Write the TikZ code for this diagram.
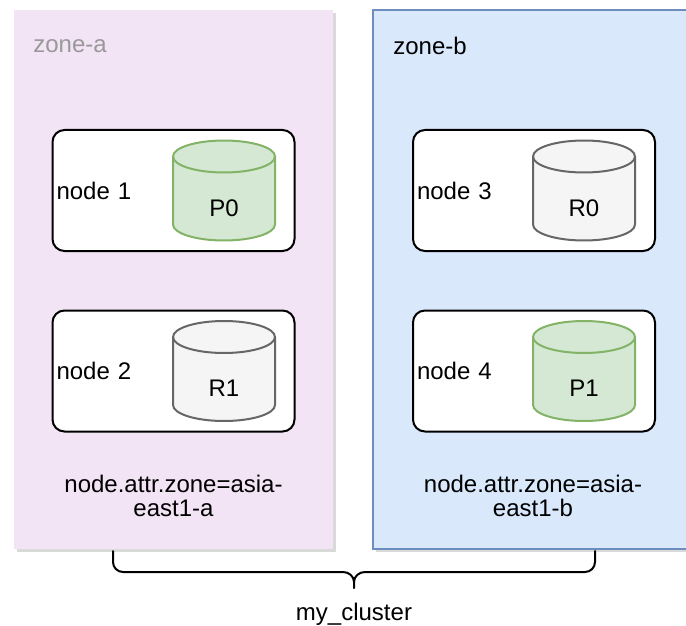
\documentclass[tikz,border=0pt]{standalone}
\usepackage{fontspec}
\setmainfont{Liberation Sans}
\usetikzlibrary{shadows}
\definecolor{zonepink}{RGB}{242,227,245}
\definecolor{zoneblue}{HTML}{DAE8FC}
\definecolor{zonebluedraw}{HTML}{6C8EBF}
\definecolor{primfill}{HTML}{D5E8D4}
\definecolor{primdraw}{HTML}{82B366}
\definecolor{repfill}{HTML}{F5F5F5}
\definecolor{repdraw}{HTML}{666666}
\definecolor{labelgray}{HTML}{999999}
\tikzset{
  zonebox/.style={minimum width=159.5pt, minimum height=269.5pt, inner sep=0pt,
    drop shadow={shadow xshift=1.5pt, shadow yshift=-1.5pt, opacity=0.3}},
  hostbox/.style={draw, line width=1pt, rounded corners=6pt, fill=white,
    minimum width=121pt, minimum height=60.5pt, text width=117pt,
    inner xsep=2pt, align=left},
  txt/.style={font=\fontsize{12}{12}\selectfont, inner sep=0pt},
  dbcyl/.pic={
    \path[pic actions] (-25.5pt,17pt) -- (-25.5pt,-17pt) arc (180:360:25.5pt and 8pt)
      -- (25.5pt,17pt) arc (0:180:25.5pt and 8pt) -- cycle;
    \draw[pic actions, fill=none] (-25.5pt,17pt) arc (180:360:25.5pt and 8pt);
    \node[txt] (-lbl) at (0,-8.75pt) {#1};
  },
  primary/.style={draw=primdraw, fill=primfill, line width=1pt},
  replica/.style={draw=repdraw, fill=repfill, line width=1pt},
  brace/.style={draw, line width=1pt, line cap=round}
}
\begin{document}
\begin{tikzpicture}[x=0.5pt, y=-0.5pt]
    \useasboundingbox (0,0) rectangle (686,626);
    \clip (0,0) rectangle (686,626);
    % zones
    \node[zonebox, fill=zonepink] (zoneA) at (173.5,279.5) {};
    \node[zonebox, fill=zoneblue, draw=zonebluedraw, line width=1pt, minimum width=160pt] (zoneB) at (533,279.5) {};
    \node[txt, anchor=west, text=labelgray] (zoneAlbl) at (33,46) {zone-a};
    \node[txt, anchor=west] (zoneBlbl) at (393,46) {zone-b};
    % hosts
    \node[hostbox, txt, inner xsep=2pt] (host1) at (173.5,190.5) {node 1};
    \node[hostbox, txt, inner xsep=2pt] (host2) at (173.5,371) {node 2};
    \node[hostbox, txt, inner xsep=2pt] (host3) at (534,190.5) {node 3};
    \node[hostbox, txt, inner xsep=2pt] (host4) at (534,371) {node 4};
    % shards
    \pic[primary] (shP0) at (224,190.5) {dbcyl=P0};
    \pic[replica] (shR1) at (224,371) {dbcyl=R1};
    \pic[replica] (shR0) at (584,190.5) {dbcyl=R0};
    \pic[primary] (shP1) at (584,371) {dbcyl=P1};
    % zone attributes
    \node[txt, align=center] (attrA) at (173.5,496) {node.attr.zone=asia-\\east1-a};
    \node[txt, align=center] (attrB) at (533,496) {node.attr.zone=asia-\\east1-b};
    % brace
    \coordinate (brL) at (113,551);
    \coordinate (brR) at (595,551);
    \coordinate (brTip) at (354,588);
    \draw[brace] (brL) -- (113,562) to[out=-90,in=180] (123,572) -- (343,572)
        to[out=0,in=90] (354,582) -- (brTip);
    \draw[brace] (brR) -- (595,562) to[out=-90,in=0] (585,572) -- (365,572)
        to[out=180,in=90] (354,582);
    \node[txt, anchor=base] (cluster) at (354,620) {my\_cluster};
\end{tikzpicture}
\end{document}
